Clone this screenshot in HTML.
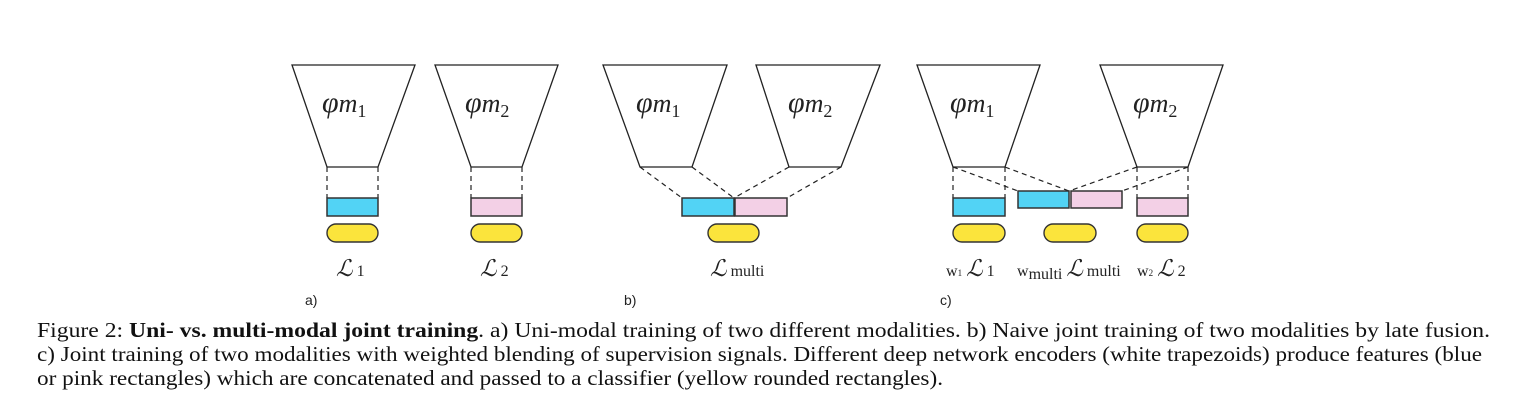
<!DOCTYPE html>
<html><head><meta charset="utf-8"><style>
body{margin:0;background:#fff;width:1517px;height:414px;overflow:hidden;position:relative;font-family:"Liberation Serif",serif}
svg{position:absolute;left:0;top:0}
</style></head><body>
<svg width="1517" height="414">
<g fill="#fff" stroke="#222" stroke-width="1.3">
<polygon points="292,65 415,65 378,167 327,167"/>
<polygon points="435,65 558,65 522,167 471,167"/>
<polygon points="603,65 727,65 692,167 640,167"/>
<polygon points="756,65 880,65 841,167 789,167"/>
<polygon points="917,65 1040,65 1005,167 953,167"/>
<polygon points="1100,65 1223,65 1188,167 1137,167"/>
</g>
<g stroke="#222" stroke-width="1.2" stroke-dasharray="5,4" fill="none">
<path d="M327,167V198M378,167V198M471,167V198M522,167V198"/>
<path d="M640,167L682,198M692,167L734,198M789,167L734,198M841,167L787,198"/>
<path d="M953,167V198M1005,167V198M1137,167V198M1188,167V198"/>
<path d="M953,167L1018,191M1005,167L1069,191M1137,167L1069,191M1188,167L1122,191"/>
</g>
<g stroke="#333" stroke-width="1.5">
<rect x="327" y="198" width="51" height="18" fill="#52d3f5"/>
<rect x="471" y="198" width="51" height="18" fill="#f3d0e6"/>
<rect x="682" y="198" width="52" height="18" fill="#52d3f5"/>
<rect x="735" y="198" width="52" height="18" fill="#f3d0e6"/>
<rect x="953" y="198" width="52" height="18" fill="#52d3f5"/>
<rect x="1018" y="191" width="51" height="17" fill="#52d3f5"/>
<rect x="1071" y="191" width="51" height="17" fill="#f3d0e6"/>
<rect x="1137" y="198" width="51" height="18" fill="#f3d0e6"/>
</g>
<g stroke="#333" stroke-width="1.4" fill="#fbe43c">
<rect x="327" y="224" width="51" height="18" rx="9"/>
<rect x="471" y="224" width="51" height="18" rx="9"/>
<rect x="708" y="224" width="51" height="18" rx="9"/>
<rect x="953" y="224" width="52" height="18" rx="9"/>
<rect x="1044" y="224" width="52" height="18" rx="9"/>
<rect x="1137" y="224" width="51" height="18" rx="9"/>
</g>
<g font-family="Liberation Serif,serif" font-style="italic" font-size="30" fill="#222">
<text x="322" y="112">φ<tspan font-size="26">m</tspan><tspan font-size="18" font-style="normal" dy="5">1</tspan></text>
<text x="465" y="112">φ<tspan font-size="26">m</tspan><tspan font-size="18" font-style="normal" dy="5">2</tspan></text>
<text x="636" y="112">φ<tspan font-size="26">m</tspan><tspan font-size="18" font-style="normal" dy="5">1</tspan></text>
<text x="788" y="112">φ<tspan font-size="26">m</tspan><tspan font-size="18" font-style="normal" dy="5">2</tspan></text>
<text x="950" y="112">φ<tspan font-size="26">m</tspan><tspan font-size="18" font-style="normal" dy="5">1</tspan></text>
<text x="1133" y="112">φ<tspan font-size="26">m</tspan><tspan font-size="18" font-style="normal" dy="5">2</tspan></text>
</g>
<g font-family="Liberation Serif,serif" fill="#222" font-size="16">
<text x="336" y="276"><tspan font-size="23" font-style="italic">ℒ</tspan> 1</text>
<text x="480" y="276"><tspan font-size="23" font-style="italic">ℒ</tspan> 2</text>
<text x="710" y="276"><tspan font-size="23" font-style="italic">ℒ</tspan> multi</text>
<text x="946" y="276">w<tspan font-size="9">1</tspan> <tspan font-size="23" font-style="italic">ℒ</tspan> 1</text>
<text x="1017" y="276">w<tspan dy="3">multi</tspan> <tspan dy="-3" font-size="23" font-style="italic">ℒ</tspan> multi</text>
<text x="1137" y="276">w<tspan font-size="9">2</tspan> <tspan font-size="23" font-style="italic">ℒ</tspan> 2</text>
</g>
<g font-family="Liberation Sans,sans-serif" font-size="14" fill="#222">
<text x="305" y="305">a)</text><text x="624" y="305">b)</text><text x="940" y="305">c)</text>
</g>
<g font-family="Liberation Serif,serif" font-size="21" fill="#111">
<text x="37" y="337" textLength="1453" lengthAdjust="spacingAndGlyphs">Figure 2: <tspan font-weight="bold">Uni- vs. multi-modal joint training</tspan>. a) Uni-modal training of two different modalities. b) Naive joint training of two modalities by late fusion.</text>
<text x="37" y="361" textLength="1445" lengthAdjust="spacingAndGlyphs">c) Joint training of two modalities with weighted blending of supervision signals. Different deep network encoders (white trapezoids) produce features (blue</text>
<text x="37" y="385" textLength="906" lengthAdjust="spacingAndGlyphs">or pink rectangles) which are concatenated and passed to a classifier (yellow rounded rectangles).</text>
</g>
</svg>
</body></html>
